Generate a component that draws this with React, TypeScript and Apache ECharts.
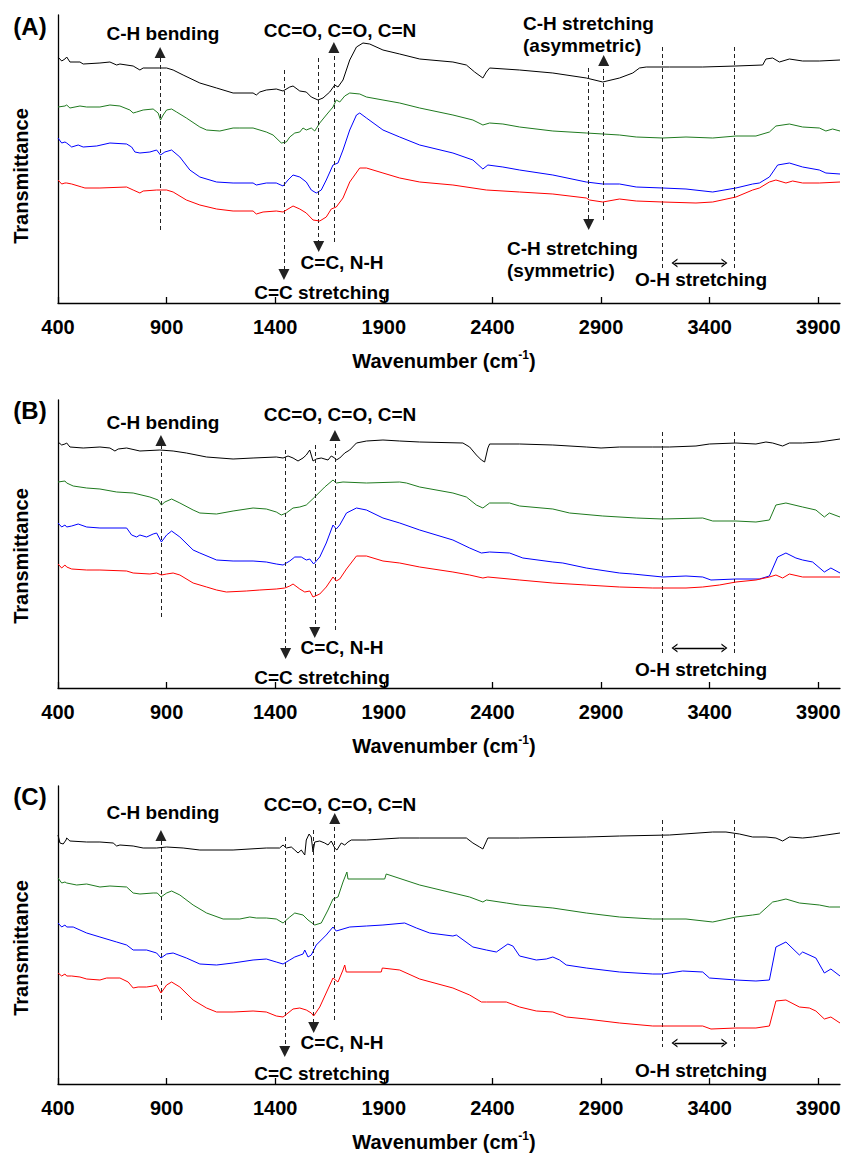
import React, { useEffect, useRef } from "react";
import * as echarts from "echarts";

// x-axis tick labels (wavenumber, cm-1)
const xTicks = [400, 900, 1400, 1900, 2400, 2900, 3400, 3900];

// ---------- Panel A: [wavenumber, transmittance (a.u., offset)] ----------
const blackA = [[400,246],[417,242],[432,244],[440,246],[455,241],[501,241],[516,239],[593,240],[639,241],[670,238],[685,239],[746,237],[777,233],[792,235],[869,235],[900,235],[930,233],[976,228],[1053,220],[1130,215],[1206,210],[1298,210],[1313,208],[1329,211],[1359,213],[1405,214],[1436,212],[1467,216],[1482,217],[1513,212],[1543,211],[1566,206],[1597,203],[1620,205],[1651,211],[1674,218],[1689,216],[1712,223],[1743,243],[1774,256],[1804,260],[1835,259],[1896,253],[1973,249],[2065,244],[2218,241],[2280,238],[2318,231],[2356,225],[2372,231],[2387,235],[2525,233],[2678,230],[2832,225],[2908,221],[2985,225],[3046,230],[3077,235],[3108,236],[3215,236],[3368,236],[3521,237],[3644,238],[3659,244],[3690,245],[3721,241],[3767,244],[3828,242],[3905,242],[4000,243]];
const greenA = [[400,196],[432,197],[440,198],[455,195],[501,197],[532,196],[593,196],[639,198],[685,197],[731,193],[746,190],[762,191],[792,193],[838,194],[861,190],[872,183],[884,188],[900,193],[923,194],[946,191],[991,185],[1053,176],[1084,173],[1145,172],[1206,175],[1237,175],[1298,175],[1359,171],[1390,168],[1428,160],[1451,161],[1467,166],[1490,170],[1513,171],[1528,175],[1543,173],[1566,175],[1582,172],[1605,180],[1635,188],[1666,196],[1681,203],[1697,201],[1720,207],[1743,210],[1789,209],[1820,206],[1896,203],[1973,200],[2065,195],[2218,188],[2310,183],[2356,178],[2387,180],[2448,179],[2525,176],[2678,172],[2832,170],[2985,168],[3062,166],[3184,165],[3291,166],[3414,165],[3521,167],[3613,167],[3675,171],[3705,177],[3767,179],[3828,176],[3905,175],[3935,172],[3966,174],[4000,172]];
const blueA = [[400,165],[417,160],[432,161],[440,160],[463,156],[493,158],[516,156],[578,157],[639,160],[716,159],[739,156],[754,151],[777,150],[823,151],[854,153],[872,148],[892,151],[923,153],[961,146],[1007,133],[1053,126],[1130,121],[1206,120],[1298,120],[1313,118],[1359,120],[1405,120],[1436,117],[1459,123],[1482,128],[1513,126],[1543,121],[1566,113],[1589,110],[1612,113],[1635,123],[1666,138],[1689,140],[1712,153],[1743,173],[1774,188],[1789,190],[1820,185],[1896,173],[1973,166],[2065,158],[2218,150],[2310,143],[2356,134],[2379,138],[2448,136],[2525,133],[2678,128],[2832,121],[2908,119],[2985,119],[3062,116],[3184,115],[3291,114],[3414,111],[3521,115],[3598,119],[3629,120],[3675,126],[3713,138],[3767,140],[3828,136],[3905,133],[3935,130],[4000,129]];
const redA = [[400,123],[417,119],[432,120],[440,120],[463,119],[509,116],[524,115],[593,115],[716,116],[746,113],[777,110],[792,112],[854,113],[900,113],[930,111],[991,103],[1053,98],[1130,94],[1206,92],[1298,92],[1313,89],[1344,91],[1405,92],[1436,91],[1482,97],[1513,94],[1543,90],[1574,83],[1605,82],[1635,86],[1658,94],[1681,96],[1712,105],[1743,121],[1789,135],[1820,135],[1896,130],[1973,125],[2065,121],[2218,118],[2372,113],[2525,111],[2678,109],[2832,105],[2847,103],[2908,101],[2985,104],[3062,102],[3184,101],[3337,100],[3414,101],[3521,106],[3598,113],[3629,115],[3675,121],[3705,123],[3751,120],[3782,122],[3828,120],[3905,120],[4000,121]];

// ---------- Panel B ----------
const blackB = [[400,246],[417,243],[432,244],[440,245],[455,241],[516,240],[593,241],[639,240],[662,237],[677,239],[716,240],[777,237],[869,238],[930,237],[991,235],[1084,231],[1206,229],[1298,230],[1405,231],[1436,230],[1459,232],[1482,230],[1505,227],[1528,230],[1543,233],[1559,238],[1574,227],[1589,229],[1612,230],[1643,228],[1658,232],[1674,230],[1681,228],[1697,230],[1720,235],[1743,238],[1774,245],[1820,247],[1896,248],[1973,247],[2065,246],[2264,245],[2295,241],[2326,233],[2349,228],[2364,226],[2379,240],[2387,244],[2525,244],[2678,243],[2832,241],[2900,240],[2985,241],[3138,241],[3215,241],[3337,242],[3399,244],[3521,245],[3613,244],[3659,246],[3690,245],[3736,242],[3767,245],[3828,245],[3905,246],[4000,249]];
const greenB = [[400,206],[432,207],[440,205],[470,202],[532,200],[593,199],[670,196],[746,195],[823,191],[861,188],[876,183],[892,186],[923,189],[961,185],[1022,178],[1053,175],[1130,174],[1206,177],[1298,180],[1359,179],[1405,176],[1428,173],[1451,175],[1482,180],[1513,181],[1543,183],[1582,191],[1628,201],[1666,208],[1681,205],[1712,206],[1820,205],[1973,206],[2004,205],[2065,201],[2218,195],[2280,191],[2326,183],[2356,180],[2387,185],[2479,185],[2525,182],[2678,179],[2755,175],[2908,172],[3062,170],[3184,169],[3368,170],[3414,167],[3521,167],[3613,166],[3675,168],[3705,183],[3751,185],[3828,181],[3889,178],[3928,171],[3951,175],[4000,171]];
const blueB = [[400,165],[417,161],[432,163],[440,161],[463,162],[493,164],[532,161],[593,160],[716,160],[739,153],[762,151],[777,153],[808,151],[838,154],[854,155],[876,146],[900,153],[923,157],[961,151],[1022,138],[1053,135],[1130,128],[1206,127],[1298,127],[1359,126],[1405,124],[1436,123],[1467,127],[1490,131],[1520,131],[1543,128],[1559,129],[1577,124],[1605,131],[1635,145],[1666,163],[1681,159],[1697,163],[1728,175],[1774,180],[1820,178],[1896,170],[1973,165],[2065,158],[2218,148],[2295,140],[2349,135],[2387,136],[2479,135],[2540,130],[2678,126],[2724,125],[2832,120],[2985,115],[3046,114],[3184,111],[3291,112],[3368,111],[3406,108],[3521,109],[3629,109],[3675,112],[3713,131],[3751,135],[3797,130],[3828,128],[3874,126],[3928,116],[3958,120],[4000,115]];
const redB = [[400,124],[417,120],[432,123],[440,121],[463,119],[532,118],[593,118],[716,117],[746,115],[823,114],[854,115],[876,113],[900,114],[930,115],[961,113],[1022,105],[1084,101],[1130,98],[1175,96],[1267,97],[1329,98],[1405,99],[1444,100],[1467,102],[1482,104],[1513,99],[1536,96],[1559,97],[1574,91],[1605,94],[1635,101],[1666,111],[1681,107],[1697,109],[1728,119],[1774,132],[1820,132],[1896,127],[1973,125],[2065,121],[2218,116],[2295,113],[2356,110],[2379,111],[2525,108],[2678,105],[2832,103],[2985,101],[3138,100],[3184,100],[3291,100],[3368,101],[3445,103],[3521,106],[3613,108],[3675,111],[3705,113],[3736,110],[3767,114],[3828,111],[4000,111]];

// ---------- Panel C ----------
const blackC = [[400,249],[409,241],[424,240],[437,244],[440,246],[455,243],[532,242],[593,242],[654,241],[670,238],[685,239],[746,238],[792,236],[854,236],[900,237],[976,236],[1053,234],[1206,234],[1359,236],[1420,236],[1436,239],[1451,236],[1474,237],[1490,234],[1505,231],[1520,234],[1536,229],[1543,244],[1556,250],[1566,247],[1574,232],[1582,242],[1605,243],[1628,241],[1643,239],[1658,243],[1674,236],[1684,234],[1704,241],[1720,239],[1735,242],[1750,244],[1820,244],[1973,246],[2065,246],[2280,246],[2310,241],[2341,237],[2356,235],[2379,246],[2525,246],[2832,247],[2985,248],[3215,249],[3414,252],[3475,252],[3537,250],[3598,247],[3659,247],[3705,246],[3736,243],[3767,247],[3828,246],[3874,247],[3905,248],[4000,251]];
const greenC = [[400,206],[417,201],[432,202],[440,201],[486,199],[532,200],[593,197],[639,198],[716,197],[746,191],[777,190],[838,191],[857,191],[874,187],[900,191],[923,193],[961,189],[1022,179],[1084,171],[1160,165],[1237,165],[1283,167],[1313,166],[1359,166],[1405,165],[1436,161],[1467,167],[1490,171],[1528,169],[1551,164],[1582,159],[1612,161],[1643,174],[1666,185],[1689,187],[1712,202],[1730,212],[1735,205],[1904,205],[1911,210],[2065,199],[2218,191],[2295,187],[2356,182],[2372,184],[2464,181],[2525,179],[2678,176],[2832,171],[2985,167],[3138,165],[3291,165],[3414,162],[3521,167],[3598,169],[3629,170],[3690,182],[3713,183],[3751,185],[3813,181],[3905,179],[3951,177],[4000,177]];
const blueC = [[400,161],[417,157],[432,159],[440,157],[470,157],[532,151],[593,147],[670,142],[716,139],[746,134],[808,134],[854,131],[874,126],[900,130],[930,131],[991,126],[1053,120],[1130,119],[1206,121],[1298,124],[1359,125],[1405,122],[1436,120],[1467,124],[1490,127],[1528,130],[1536,134],[1551,127],[1566,129],[1589,139],[1635,149],[1666,157],[1681,153],[1743,157],[1820,158],[1896,159],[1996,161],[2050,156],[2111,151],[2218,148],[2234,149],[2310,137],[2372,134],[2418,132],[2471,140],[2494,138],[2525,128],[2602,124],[2648,125],[2678,127],[2709,124],[2740,119],[2832,116],[2985,112],[3138,110],[3184,110],[3276,113],[3368,112],[3399,106],[3521,104],[3613,103],[3675,104],[3705,137],[3751,142],[3813,129],[3828,132],[3889,126],[3928,111],[3958,115],[4000,108]];
const redC = [[400,111],[417,108],[432,110],[440,108],[463,108],[501,107],[532,105],[593,104],[624,106],[685,106],[723,102],[746,96],[769,97],[808,97],[838,98],[854,99],[874,91],[900,99],[923,102],[961,97],[1022,84],[1084,76],[1130,72],[1206,72],[1298,73],[1359,72],[1405,68],[1436,67],[1482,75],[1513,76],[1543,74],[1566,71],[1577,68],[1605,77],[1666,106],[1689,102],[1712,114],[1720,119],[1727,112],[1888,112],[1893,116],[1973,114],[2065,105],[2218,96],[2295,89],[2349,82],[2372,82],[2464,82],[2525,77],[2602,73],[2678,72],[2740,67],[2832,65],[2985,61],[3138,58],[3184,58],[3368,58],[3406,55],[3521,56],[3613,56],[3675,58],[3705,83],[3751,84],[3813,77],[3859,76],[3889,73],[3928,65],[3958,67],[4000,61]];

// ---------- Band annotations: [wavenumber, line start, arrow tip] ----------
const upArrowsA = [[870, 73, 256], [1670, 61, 261], [2912, 83, 248]];
const downArrowsA = [[1440, 233, 23], [1600, 245, 51], [2843, 235, 73]];
const upArrowsB = [[874, 71, 253], [1675, 58, 258]];
const downArrowsB = [[1448, 238, 29], [1582, 243, 50]];
const upArrowsC = [[874, 64, 254], [1674, 64, 271]];
const downArrowsC = [[1444, 247, 27], [1577, 254, 51]];
// O-H region: [x1, x2, top, bottom], double arrow [x1, x2, level]
const ohBoundsA = [3180, 3514, 256, 35];
const ohArrowA = [3238, 3468, 40];
const ohBoundsB = [3180, 3514, 256, 35];
const ohArrowB = [3238, 3468, 40];
const ohBoundsC = [3180, 3514, 264, 37];
const ohArrowC = [3238, 3468, 41];

const seriesNames = ["black", "green", "blue", "red"];
const seriesColors = ["#000000", "#1f7a1f", "#0000ff", "#ff0000"];

const FONT = '"Liberation Sans", Arial, Helvetica, sans-serif';
const CHEVRON = "path://M0,10 L5,0 L10,10 L8.4,10 L5,3.2 L1.6,10 Z";

const panels = [
  { label: "(A)", top: 15, height: 288, data: [blackA, greenA, blueA, redA], up: upArrowsA, down: downArrowsA, ohB: ohBoundsA, ohA: ohArrowA,
    texts: [["C-H bending", 163, 33, "center"], ["CC=O, C=O, C=N", 340, 30, "center"], ["C=C, N-H", 342, 262, "center"], ["C=C stretching", 322, 292, "center"],
      ["C-H stretching", 523, 23, "left"], ["(asymmetric)", 523, 45, "left"], ["C-H stretching", 507, 248, "left"], ["(symmetric)", 507, 270, "left"], ["O-H stretching", 701, 279, "center"]],
    labelY: 26, transY: 176, titleY: 361 },
  { label: "(B)", top: 400, height: 288, data: [blackB, greenB, blueB, redB], up: upArrowsB, down: downArrowsB, ohB: ohBoundsB, ohA: ohArrowB,
    texts: [["C-H bending", 163, 422, "center"], ["CC=O, C=O, C=N", 340, 414, "center"], ["C=C, N-H", 342, 647, "center"], ["C=C stretching", 322, 677, "center"], ["O-H stretching", 701, 669, "center"]],
    labelY: 410, transY: 556, titleY: 746 },
  { label: "(C)", top: 786, height: 298, data: [blackC, greenC, blueC, redC], up: upArrowsC, down: downArrowsC, ohB: ohBoundsC, ohA: ohArrowC,
    texts: [["C-H bending", 163, 812, "center"], ["CC=O, C=O, C=N", 340, 804, "center"], ["C=C, N-H", 342, 1042, "center"], ["C=C stretching", 322, 1073, "center"], ["O-H stretching", 701, 1070, "center"]],
    labelY: 796, transY: 948, titleY: 1142 },
];

const TRI = 11;

function buildMarkLines(p: any) {
  const items: any[] = [];
  p.up.forEach(([x, from, tip]: number[]) => {
    items.push([{ coord: [x, from], symbol: "none" }, { coord: [x, tip - TRI / 2], symbol: "triangle", symbolSize: TRI }]);
  });
  p.down.forEach(([x, from, tip]: number[]) => {
    items.push([{ coord: [x, from], symbol: "none" }, { coord: [x, tip + TRI / 2], symbol: "triangle", symbolSize: TRI }]);
  });
  const [x1, x2, t, b] = p.ohB;
  items.push([{ coord: [x1, t], symbol: "none" }, { coord: [x1, b], symbol: "none" }]);
  items.push([{ coord: [x2, t], symbol: "none" }, { coord: [x2, b], symbol: "none" }]);
  const [a1, a2, lv] = p.ohA;
  items.push([
    { coord: [a1, lv], symbol: CHEVRON, symbolSize: [9, 6], lineStyle: { type: "solid", color: "#000", width: 1.3 } },
    { coord: [a2, lv], symbol: CHEVRON, symbolSize: [9, 6] },
  ]);
  return items;
}

export default function App() {
  const ref = useRef<HTMLDivElement>(null);
  useEffect(() => {
    if (!ref.current) return;
    const chart = echarts.init(ref.current, null, { renderer: "svg" });
    const series: any[] = [];
    panels.forEach((p, i) => {
      p.data.forEach((d, k) => {
        series.push({
          type: "line",
          name: seriesNames[k] + p.label,
          xAxisIndex: i,
          yAxisIndex: i,
          data: d,
          showSymbol: false,
          symbol: "none",
          silent: true,
          lineStyle: { color: seriesColors[k], width: 1 },
          z: 2 + k,
        });
      });
      series.push({
        type: "line",
        name: "annotations" + p.label,
        xAxisIndex: i,
        yAxisIndex: i,
        data: [],
        silent: true,
        z: 10,
        markLine: {
          silent: true,
          animation: false,
          symbol: "none",
          label: { show: false },
          emphasis: { disabled: true },
          lineStyle: { color: "#222", width: 1, type: [4, 3] },
          itemStyle: { color: "#000" },
          data: buildMarkLines(p),
        },
      });
    });

    const graphic: any[] = [];
    panels.forEach((p) => {
      graphic.push({ type: "text", x: 30, y: p.labelY, style: { text: p.label, font: `bold 24px ${FONT}`, fill: "#000", align: "center", verticalAlign: "middle" } });
      graphic.push({ type: "text", x: 21, y: p.transY, rotation: Math.PI / 2, style: { text: "Transmittance", font: `bold 20px ${FONT}`, fill: "#000", align: "center", verticalAlign: "middle" } });
      graphic.push({
        type: "text", x: 444, y: p.titleY,
        style: {
          text: "{a|Wavenumber (cm}{s|-1}{a|)}", align: "center", verticalAlign: "middle",
          rich: {
            a: { fontSize: 20, fontWeight: "bold", fontFamily: FONT, fill: "#000", lineHeight: 24 },
            s: { fontSize: 12, fontWeight: "bold", fontFamily: FONT, fill: "#000", lineHeight: 12, verticalAlign: "top" },
          },
        },
      });
      p.texts.forEach(([t, x, y, al]: any) => {
        graphic.push({ type: "text", x, y, style: { text: t, font: `bold 19px ${FONT}`, fill: "#000", align: al, verticalAlign: "middle" } });
      });
    });

    chart.setOption({
      animation: false,
      backgroundColor: "#fff",
      grid: panels.map((p) => ({ left: 58, right: 16, top: p.top, height: p.height, containLabel: false })),
      xAxis: panels.map((p, i) => ({
        type: "value",
        gridIndex: i,
        min: 400,
        max: 4000,
        axisLine: { show: true, onZero: false, lineStyle: { color: "#000", width: 1.3 } },
        axisTick: { show: true, inside: true, length: 6, customValues: xTicks, lineStyle: { color: "#000", width: 1.3 } },
        axisLabel: { customValues: xTicks, formatter: (v: number) => String(v), fontSize: 20, fontWeight: "bold", fontFamily: FONT, color: "#000", margin: 14 },
        splitLine: { show: false },
      })),
      yAxis: panels.map((p, i) => ({
        type: "value",
        gridIndex: i,
        min: 0,
        max: p.height,
        axisLine: { show: true, onZero: false, lineStyle: { color: "#000", width: 1.3 } },
        axisTick: { show: false },
        axisLabel: { show: false },
        splitLine: { show: false },
      })),
      series,
      graphic,
    });
    return () => chart.dispose();
  }, []);
  return <div ref={ref} style={{ position: "absolute", left: 0, top: 0, width: 856, height: 1157 }} />;
}
